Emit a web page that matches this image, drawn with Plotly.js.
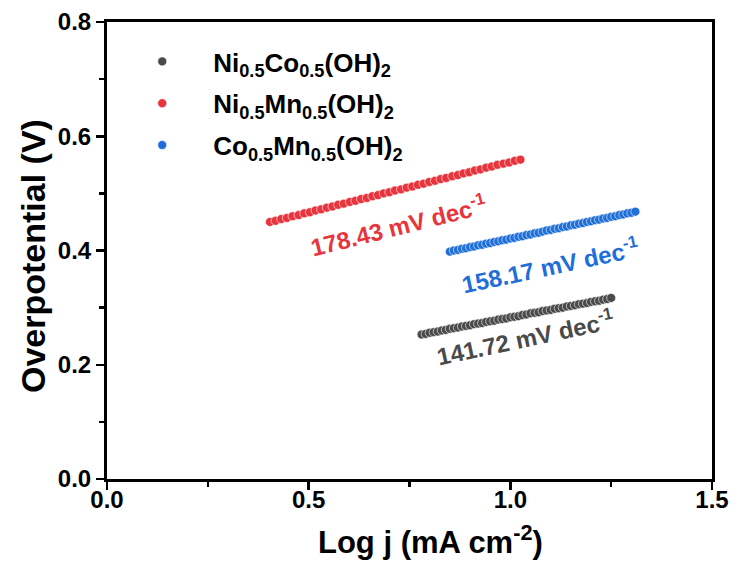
<!DOCTYPE html>
<html>
<head>
<meta charset="utf-8">
<script src="https://cdn.plot.ly/plotly-3.0.1.min.js"></script>
<style>html,body{margin:0;padding:0;background:#fff;}#chart{width:739px;height:563px;}</style>
</head>
<body>
<div id="chart"></div>
<script>
// Series names
const seriesNames = [
  "Ni<sub>0.5</sub>Co<sub>0.5</sub>(OH)<sub>2</sub>",
  "Ni<sub>0.5</sub>Mn<sub>0.5</sub>(OH)<sub>2</sub>",
  "Co<sub>0.5</sub>Mn<sub>0.5</sub>(OH)<sub>2</sub>"
];
const tafelLabels = ["141.72 mV dec<sup>-1</sup>", "178.43 mV dec<sup>-1</sup>", "158.17 mV dec<sup>-1</sup>"];
const xTitle = "Log j (mA cm<sup>-2</sup>)";
const yTitle = "Overpotential (V)";
const xTickVals = [0, 0.5, 1.0, 1.5];
const xTickText = ["0.0", "0.5", "1.0", "1.5"];
const yTickVals = [0, 0.2, 0.4, 0.6, 0.8];
const yTickText = ["0.0", "0.2", "0.4", "0.6", "0.8"];

// Ni0.5Co0.5(OH)2 (gray)
const nicoX = [0.78,0.79,0.80,0.81,0.82,0.83,0.84,0.85,0.86,0.87,0.88,0.89,0.90,0.91,0.92,0.93,0.94,0.95,0.96,0.97,0.98,0.99,1.00,1.01,1.02,1.03,1.04,1.05,1.06,1.07,1.08,1.09,1.10,1.11,1.12,1.13,1.14,1.15,1.16,1.17,1.18,1.19,1.20,1.21,1.22,1.23,1.24,1.25];
const nicoY = [0.253,0.254,0.256,0.257,0.258,0.260,0.261,0.263,0.264,0.265,0.267,0.268,0.269,0.271,0.272,0.273,0.275,0.276,0.277,0.279,0.280,0.281,0.283,0.284,0.285,0.287,0.288,0.290,0.291,0.292,0.294,0.295,0.296,0.298,0.299,0.300,0.302,0.303,0.304,0.306,0.307,0.308,0.310,0.311,0.312,0.314,0.315,0.317];

// Ni0.5Mn0.5(OH)2 (red)
const nimnX = [0.404,0.418,0.432,0.446,0.460,0.475,0.489,0.503,0.517,0.531,0.545,0.559,0.573,0.587,0.602,0.616,0.630,0.644,0.658,0.672,0.686,0.700,0.714,0.729,0.743,0.757,0.771,0.785,0.799,0.813,0.827,0.841,0.856,0.870,0.884,0.898,0.912,0.926,0.940,0.954,0.968,0.983,0.997,1.011,1.025];
const nimnY = [0.450,0.452,0.455,0.457,0.460,0.462,0.465,0.467,0.470,0.472,0.475,0.477,0.480,0.482,0.485,0.487,0.490,0.492,0.495,0.497,0.500,0.502,0.505,0.507,0.510,0.512,0.515,0.517,0.520,0.522,0.525,0.527,0.530,0.532,0.535,0.537,0.540,0.542,0.545,0.547,0.550,0.552,0.554,0.557,0.559];

// Co0.5Mn0.5(OH)2 (blue)
const comnX = [0.85,0.86,0.87,0.88,0.89,0.90,0.91,0.92,0.93,0.94,0.95,0.96,0.97,0.98,0.99,1.00,1.01,1.02,1.03,1.04,1.05,1.06,1.07,1.08,1.09,1.10,1.11,1.12,1.13,1.14,1.15,1.16,1.17,1.18,1.19,1.20,1.21,1.22,1.23,1.24,1.25,1.26,1.27,1.28,1.29,1.30,1.31];
const comnY = [0.398,0.400,0.401,0.403,0.404,0.406,0.407,0.409,0.410,0.412,0.413,0.415,0.416,0.418,0.419,0.421,0.422,0.424,0.425,0.427,0.428,0.430,0.431,0.433,0.435,0.436,0.438,0.439,0.441,0.442,0.444,0.445,0.447,0.448,0.450,0.451,0.453,0.454,0.456,0.457,0.459,0.460,0.462,0.463,0.465,0.466,0.468];

const colors = ["#4a4a4a", "#e8343c", "#1f6fd8"];
const FONT = "Liberation Sans, Arial, sans-serif";

function mk(x, y, name, color, grp) {
  return {
    x: x, y: y, name: name, type: "scatter", mode: "markers",
    legendgroup: grp,
    marker: {color: color, size: 9, line: {color: "rgba(255,255,255,0.75)", width: 0.8}}
  };
}

const data = [
  mk(nicoX, nicoY, seriesNames[0], colors[0], "a"),
  mk(nimnX, nimnY, seriesNames[1], colors[1], "b"),
  mk(comnX, comnY, seriesNames[2], colors[2], "c")
];

const axisCommon = {
  showgrid: false, zeroline: false, showline: true, linecolor: "#000", linewidth: 3,
  mirror: true, ticks: "outside", ticklen: 8, tickwidth: 2.5, tickcolor: "#000",
  tickfont: {family: FONT, size: 24, color: "#000", weight: "bold"}
};

const pw = 739 - 107 - 27, ph = 563 - 22 - 84;

const layout = {
  width: 739, height: 563,
  margin: {l: 107, r: 27, t: 22, b: 84},
  paper_bgcolor: "#fff", plot_bgcolor: "#fff",
  font: {family: FONT, color: "#000"},
  xaxis: Object.assign({}, axisCommon, {
    range: [0, 1.5], tickvals: xTickVals, ticktext: xTickText,
    ticklabelstandoff: -11,
    minor: {ticks: "outside", ticklen: 5, tickwidth: 2.5, tickcolor: "#000", tickvals: [0.25, 0.75, 1.25]}
  }),
  yaxis: Object.assign({}, axisCommon, {
    range: [0, 0.8], tickvals: yTickVals, ticktext: yTickText,
    minor: {ticks: "outside", ticklen: 5, tickwidth: 2.5, tickcolor: "#000", tickvals: [0.1, 0.3, 0.5, 0.7]}
  }),
  showlegend: true,
  legend: {
    x: 0.007, y: 0.965, xanchor: "left", yanchor: "top",
    bgcolor: "rgba(0,0,0,0)", borderwidth: 0,
    font: {family: FONT, size: 26, weight: "bold", color: "#000"},
    itemwidth: 92, tracegroupgap: 5, traceorder: "grouped"
  },
  annotations: [
    {x: 1.037, y: 0.249, xref: "x", yref: "y", text: tafelLabels[0], showarrow: false, textangle: -12,
     font: {family: FONT, size: 24, weight: "bold", color: colors[0]}},
    {x: 0.722, y: 0.445, xref: "x", yref: "y", text: tafelLabels[1], showarrow: false, textangle: -14,
     font: {family: FONT, size: 24, weight: "bold", color: colors[1]}},
    {x: 1.099, y: 0.375, xref: "x", yref: "y", text: tafelLabels[2], showarrow: false, textangle: -12,
     font: {family: FONT, size: 24, weight: "bold", color: colors[2]}},
    {x: (430 - 107) / pw, y: (479 - 540) / ph, xref: "paper", yref: "paper", xanchor: "center", yanchor: "middle",
     text: xTitle, showarrow: false,
     font: {family: FONT, size: 31, weight: "bold", color: "#000"}},
    {x: (33 - 107) / pw, y: (479 - 256) / ph, xref: "paper", yref: "paper", xanchor: "center", yanchor: "middle",
     text: yTitle, showarrow: false, textangle: -90,
     font: {family: FONT, size: 34, weight: "bold", color: "#000"}}
  ]
};

Plotly.newPlot("chart", data, layout, {displayModeBar: false, staticPlot: true});
</script>
</body>
</html>
